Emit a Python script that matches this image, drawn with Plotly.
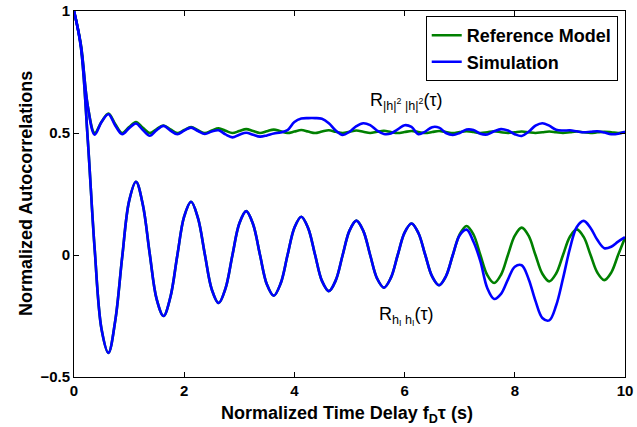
import plotly.graph_objects as go

# Normalized time delay f_D * tau (s)
tau = [0.000, 0.125, 0.250, 0.375, 0.500, 0.625, 0.750, 0.875,
       1.000, 1.125, 1.250, 1.375, 1.500, 1.625, 1.750, 1.875,
       2.000, 2.125, 2.250, 2.375, 2.500, 2.625, 2.750, 2.875,
       3.000, 3.125, 3.250, 3.375, 3.500, 3.625, 3.750, 3.875,
       4.000, 4.125, 4.250, 4.375, 4.500, 4.625, 4.750, 4.875,
       5.000, 5.125, 5.250, 5.375, 5.500, 5.625, 5.750, 5.875,
       6.000, 6.125, 6.250, 6.375, 6.500, 6.625, 6.750, 6.875,
       7.000, 7.125, 7.250, 7.375, 7.500, 7.625, 7.750, 7.875,
       8.000, 8.125, 8.250, 8.375, 8.500, 8.625, 8.750, 8.875,
       9.000, 9.125, 9.250, 9.375, 9.500, 9.625, 9.750, 9.875,
       10.000]

# R_{hI hI}(tau), reference model
ref_hh = [1.000, 0.852, 0.472, 0.025, -0.304, -0.401, -0.267, -0.008,
          0.221, 0.300, 0.205, 0.004, -0.181, -0.250, -0.172, -0.002,
          0.158, 0.218, 0.151, 0.002, -0.141, -0.197, -0.137, -0.001,
          0.129, 0.180, 0.126, 0.001, -0.120, -0.167, -0.117, -0.001,
          0.112, 0.157, 0.110, 0.001, -0.106, -0.148, -0.104, -0.001,
          0.100, 0.141, 0.099, 0.000, -0.096, -0.134, -0.094, 0.000,
          0.092, 0.129, 0.090, 0.000, -0.088, -0.124, -0.087, 0.000,
          0.085, 0.119, 0.084, 0.000, -0.082, -0.115, -0.081, 0.000,
          0.079, 0.112, 0.079, 0.000, -0.077, -0.108, -0.076, 0.000,
          0.075, 0.105, 0.074, 0.000, -0.073, -0.103, -0.072, 0.000,
          0.071]

# R_{hI hI}(tau), simulation
sim_hh = [1.000, 0.852, 0.472, 0.025, -0.304, -0.401, -0.267, -0.008,
          0.221, 0.300, 0.205, 0.004, -0.181, -0.250, -0.172, -0.002,
          0.158, 0.218, 0.151, 0.002, -0.141, -0.197, -0.137, -0.001,
          0.129, 0.180, 0.126, 0.001, -0.120, -0.167, -0.117, -0.001,
          0.112, 0.157, 0.110, 0.001, -0.106, -0.148, -0.104, -0.001,
          0.100, 0.141, 0.099, 0.000, -0.096, -0.134, -0.094, 0.000,
          0.092, 0.129, 0.090, 0.000, -0.088, -0.124, -0.087, 0.000,
          0.081, 0.104, 0.054, -0.025, -0.135, -0.180, -0.159, -0.101,
          -0.048, -0.042, -0.098, -0.188, -0.258, -0.268, -0.207, -0.096,
          0.026, 0.115, 0.140, 0.111, 0.061, 0.028, 0.034, 0.055,
          0.073]

# R_{|h|^2 |h|^2}(tau), reference model
ref_sq = [1.000, 0.863, 0.611, 0.500, 0.546, 0.580, 0.536, 0.500,
          0.524, 0.545, 0.521, 0.500, 0.516, 0.531, 0.515, 0.500,
          0.512, 0.524, 0.511, 0.500, 0.510, 0.519, 0.509, 0.500,
          0.508, 0.516, 0.508, 0.500, 0.507, 0.514, 0.507, 0.500,
          0.506, 0.512, 0.506, 0.500, 0.506, 0.511, 0.505, 0.500,
          0.505, 0.510, 0.505, 0.500, 0.505, 0.509, 0.504, 0.500,
          0.504, 0.508, 0.504, 0.500, 0.504, 0.508, 0.504, 0.500,
          0.504, 0.507, 0.504, 0.500, 0.503, 0.507, 0.503, 0.500,
          0.503, 0.506, 0.503, 0.500, 0.503, 0.506, 0.503, 0.500,
          0.503, 0.506, 0.503, 0.500, 0.503, 0.505, 0.503, 0.500,
          0.503]

# R_{|h|^2 |h|^2}(tau), simulation
sim_sq = [1.000, 0.860, 0.610, 0.493, 0.545, 0.577, 0.530, 0.495,
          0.520, 0.539, 0.512, 0.489, 0.512, 0.529, 0.510, 0.495,
          0.510, 0.522, 0.508, 0.496, 0.506, 0.511, 0.494, 0.482,
          0.493, 0.501, 0.493, 0.485, 0.490, 0.498, 0.502, 0.512,
          0.545, 0.559, 0.561, 0.561, 0.558, 0.540, 0.510, 0.492,
          0.505, 0.528, 0.540, 0.532, 0.510, 0.496, 0.498, 0.515,
          0.532, 0.525, 0.495, 0.506, 0.524, 0.522, 0.500, 0.492,
          0.500, 0.514, 0.512, 0.497, 0.494, 0.507, 0.516, 0.510,
          0.495, 0.488, 0.505, 0.530, 0.540, 0.530, 0.513, 0.510,
          0.511, 0.507, 0.503, 0.505, 0.507, 0.502, 0.495, 0.497,
          0.505]

x_ticks = [0, 2, 4, 6, 8, 10]
y_ticks = [-0.5, 0, 0.5, 1]

GREEN = "#008000"
BLUE = "#0000ff"
FONT = "Liberation Sans, Arial, Helvetica, sans-serif"
LW = 2.6

fig = go.Figure()
fig.add_trace(go.Scatter(x=tau, y=ref_hh, mode="lines", name="Reference Model",
                         line=dict(color=GREEN, width=LW, shape="spline")))
fig.add_trace(go.Scatter(x=tau, y=ref_sq, mode="lines", name="Reference Model",
                         showlegend=False,
                         line=dict(color=GREEN, width=LW, shape="spline")))
fig.add_trace(go.Scatter(x=tau, y=sim_hh, mode="lines", name="Simulation",
                         line=dict(color=BLUE, width=LW, shape="spline")))
fig.add_trace(go.Scatter(x=tau, y=sim_sq, mode="lines", name="Simulation",
                         showlegend=False,
                         line=dict(color=BLUE, width=LW, shape="spline")))

axis_common = dict(showline=True, linecolor="black", linewidth=1, mirror="ticks",
                   ticks="inside", ticklen=5, tickcolor="black", tickwidth=1,
                   showgrid=False, zeroline=False, automargin=False,
                   tickfont=dict(family=FONT, size=15, color="black", weight="bold"))

title_font = dict(family=FONT, size=18, color="black", weight="bold")

fig.update_layout(
    width=637, height=427,
    margin=dict(l=74, r=12, t=11, b=50),
    paper_bgcolor="white", plot_bgcolor="white",
    xaxis=dict(range=[0, 10], tickvals=x_ticks, **axis_common),
    yaxis=dict(range=[-0.5, 1], tickvals=y_ticks, **axis_common),
    legend=dict(x=0.9868, y=0.986, xanchor="right", yanchor="top",
                bgcolor="white", bordercolor="black", borderwidth=1,
                tracegroupgap=0,
                font=dict(family=FONT, size=18, color="black", weight="bold")),
    annotations=[
        dict(x=0.495, y=-0.066, xref="paper", yref="paper", xanchor="center", yanchor="top",
             text="Normalized Time Delay f<sub>D</sub>τ (s)", showarrow=False,
             font=title_font),
        dict(x=-0.087, y=0.5, xref="paper", yref="paper", xanchor="center", yanchor="middle",
             text="Normalized Autocorrelations", textangle=-90, showarrow=False,
             font=title_font),
        dict(x=5.34, y=0.631, xref="x", yref="y", xanchor="left", yanchor="middle",
             text="R<sub>|h|<sup>2</sup> |h|<sup>2</sup></sub>(τ)", showarrow=False,
             font=dict(family=FONT, size=18, color="black")),
        dict(x=5.50, y=-0.25, xref="x", yref="y", xanchor="left", yanchor="middle",
             text="R<sub>h<sub>I</sub> h<sub>I</sub></sub>(τ)", showarrow=False,
             font=dict(family=FONT, size=18, color="black")),
    ],
)

fig.write_html("out.html")
